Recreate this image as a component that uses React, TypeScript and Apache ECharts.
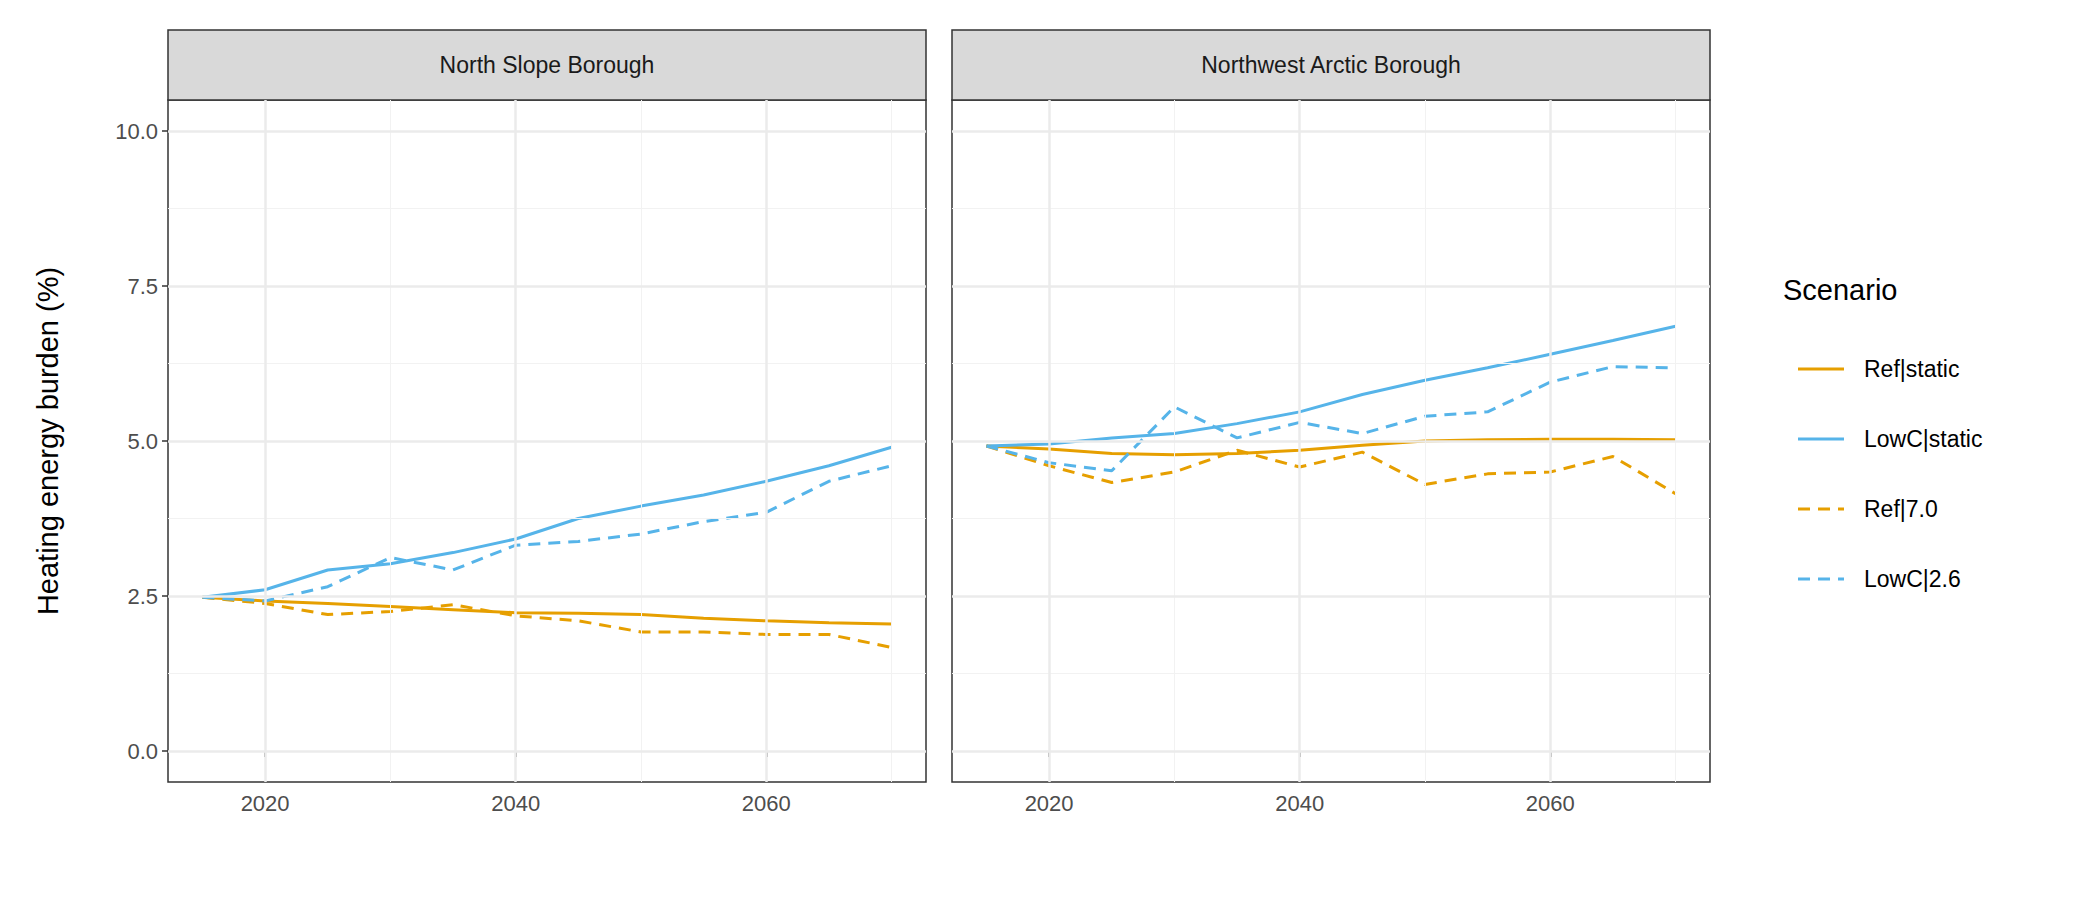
import { useEffect, useRef } from 'react'
import * as echarts from 'echarts'

const years = [2015, 2020, 2025, 2030, 2035, 2040, 2045, 2050, 2055, 2060, 2065, 2070]
const panels = ['North Slope Borough', 'Northwest Arctic Borough']
const scenarios = ['Ref|static', 'LowC|static', 'Ref|7.0', 'LowC|2.6']
const scenarioColors = ['#E69F00', '#56B4E9', '#E69F00', '#56B4E9']
const scenarioDashed = [false, false, true, true]

const northSlope = [
  [2.48, 2.42, 2.38, 2.33, 2.28, 2.23, 2.22, 2.2, 2.14, 2.1, 2.07, 2.05],
  [2.48, 2.6, 2.92, 3.02, 3.2, 3.42, 3.75, 3.95, 4.13, 4.35, 4.6, 4.9],
  [2.48, 2.38, 2.2, 2.25, 2.36, 2.18, 2.1, 1.92, 1.92, 1.88, 1.88, 1.67],
  [2.48, 2.42, 2.65, 3.12, 2.92, 3.32, 3.38, 3.5, 3.7, 3.85, 4.35, 4.6],
]
const northwestArctic = [
  [4.92, 4.87, 4.8, 4.78, 4.8, 4.85, 4.93, 5.0, 5.02, 5.03, 5.03, 5.02],
  [4.92, 4.95, 5.05, 5.12, 5.28, 5.47, 5.75, 5.98, 6.18, 6.4, 6.62, 6.85],
  [4.92, 4.6, 4.33, 4.5, 4.85, 4.58, 4.82, 4.3, 4.47, 4.5, 4.75, 4.15],
  [4.92, 4.65, 4.52, 5.55, 5.05, 5.3, 5.12, 5.4, 5.47, 5.95, 6.2, 6.18],
]
const panelData = [northSlope, northwestArctic]

const yTicks = [0, 2.5, 5, 7.5, 10]
const yMinor = [1.25, 3.75, 6.25, 8.75]
const xTicks = [2020, 2040, 2060]
const xMinor = [2030, 2050, 2070]

const FONT = 'Liberation Sans'
const panelLeft = [160, 944]
const panelWidth = 758
const plotTop = 92
const plotBottom = 774
const legendY = [361, 431, 501, 571]

export default function App() {
  const ref = useRef<HTMLDivElement>(null)

  useEffect(() => {
    if (!ref.current) return
    const chart = echarts.init(ref.current, null, { renderer: 'svg' })

    const grids = panelLeft.map(left => ({
      left, top: plotTop, width: panelWidth, height: plotBottom - plotTop,
      show: true, borderColor: '#333333', borderWidth: 1.5, backgroundColor: '#fff',
    }))

    const xAxes = panelLeft.map((_, i) => ({
      type: 'value', gridIndex: i, min: 2012.25, max: 2072.75,
      splitLine: { show: false },
      axisLine: { show: false },
      axisTick: { show: true, customValues: xTicks, length: 6, lineStyle: { color: '#333', width: 1.5 } },
      axisLabel: {
        customValues: xTicks, color: '#4D4D4D', fontSize: 22, fontFamily: FONT, margin: 10,
        formatter: (v: number) => String(v),
      },
    }))

    const yAxes = panelLeft.map((_, i) => ({
      type: 'value', gridIndex: i, min: -0.5, max: 10.5,
      splitLine: { show: false },
      axisLine: { show: false },
      axisTick: { show: i === 0, customValues: yTicks, length: 6, lineStyle: { color: '#333', width: 1.5 } },
      axisLabel: {
        show: i === 0, customValues: yTicks, color: '#4D4D4D', fontSize: 22, fontFamily: FONT, margin: 10,
        formatter: (v: number) => v.toFixed(1),
      },
    }))

    const series: any[] = []
    panelLeft.forEach((_, p) => {
      const lines = [
        ...yMinor.map(v => ({ yAxis: v, lineStyle: { color: '#F2F2F2', width: 1 } })),
        ...xMinor.map(v => ({ xAxis: v, lineStyle: { color: '#F2F2F2', width: 1 } })),
        ...yTicks.map(v => ({ yAxis: v, lineStyle: { color: '#EBEBEB', width: 2.5 } })),
        ...xTicks.map(v => ({ xAxis: v, lineStyle: { color: '#EBEBEB', width: 2.5 } })),
      ]
      series.push({
        type: 'line', xAxisIndex: p, yAxisIndex: p, data: [], silent: true, z: 1,
        markLine: { silent: true, symbol: 'none', label: { show: false }, lineStyle: { type: 'solid' }, data: lines },
      })
      scenarios.forEach((name, s) => {
        series.push({
          name, type: 'line', xAxisIndex: p, yAxisIndex: p, z: 3 + (scenarioDashed[s] ? 1 : 0),
          showSymbol: false, symbol: 'none',
          data: years.map((y, k) => [y, panelData[p][s][k]]),
          lineStyle: { color: scenarioColors[s], width: 3, type: scenarioDashed[s] ? [12, 8] : 'solid' },
          itemStyle: { color: scenarioColors[s] },
        })
      })
    })

    const graphic: any[] = []
    panelLeft.forEach((left, p) => {
      graphic.push({
        type: 'rect', shape: { x: left, y: 22, width: panelWidth, height: plotTop - 22 },
        style: { fill: '#D9D9D9', stroke: '#333333', lineWidth: 1.5 },
      })
      graphic.push({
        type: 'text', x: left + panelWidth / 2, y: 22 + (plotTop - 22) / 2,
        style: { text: panels[p], fill: '#1A1A1A', font: `23px "${FONT}"`, align: 'center', verticalAlign: 'middle' },
      })
    })
    graphic.push({
      type: 'text', x: 40, y: (plotTop + plotBottom) / 2, rotation: Math.PI / 2,
      style: { text: 'Heating energy burden (%)', fill: '#000', font: `29px "${FONT}"`, align: 'center', verticalAlign: 'middle' },
    })
    graphic.push({
      type: 'text', x: 1775, y: 282,
      style: { text: 'Scenario', fill: '#000', font: `29px "${FONT}"`, align: 'left', verticalAlign: 'middle' },
    })
    scenarios.forEach((name, s) => {
      graphic.push({
        type: 'line', shape: { x1: 1790, y1: legendY[s], x2: 1836, y2: legendY[s] },
        style: { stroke: scenarioColors[s], lineWidth: 3, lineDash: scenarioDashed[s] ? [12, 8] : null },
      })
      graphic.push({
        type: 'text', x: 1856, y: legendY[s],
        style: { text: name, fill: '#000', font: `23px "${FONT}"`, align: 'left', verticalAlign: 'middle' },
      })
    })

    chart.setOption({
      animation: false,
      grid: grids,
      xAxis: xAxes,
      yAxis: yAxes,
      series,
      graphic,
    })

    return () => chart.dispose()
  }, [])

  return <div ref={ref} style={{ width: 2100, height: 900, background: '#fff' }} />
}
